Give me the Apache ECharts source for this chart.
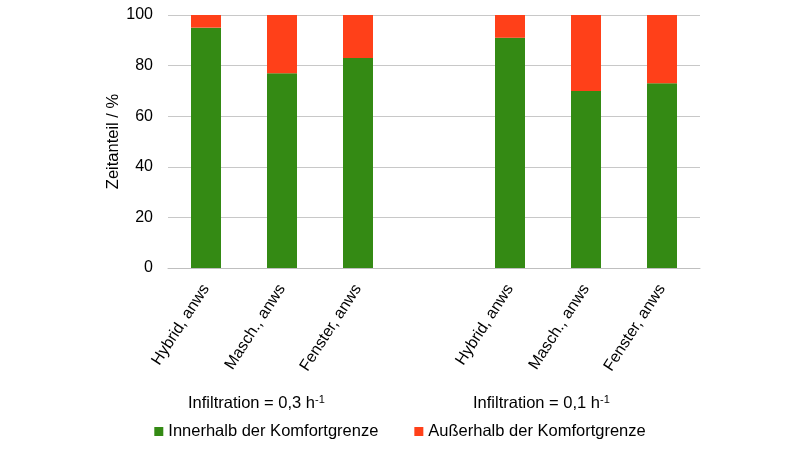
<!DOCTYPE html>
<html><head><meta charset="utf-8">
<script src="https://cdn.jsdelivr.net/npm/echarts@6/dist/echarts.min.js"></script>
<style>html,body{margin:0;padding:0;background:#fff}#c{width:800px;height:450px}</style>
</head><body><div id="c"></div>
<script>
const categories = ['Hybrid, anws', 'Masch., anws', 'Fenster, anws', '', 'Hybrid, anws', 'Masch., anws', 'Fenster, anws'];
const innerhalb = [95, 77, 83, null, 91, 70, 73];
const ausserhalb = [5, 23, 17, null, 9, 30, 27];
const groupLabels = ['Infiltration = 0,3 h', 'Infiltration = 0,1 h'];
const yTicks = [0, 20, 40, 60, 80, 100];

const font = 'Liberation Sans, Arial, sans-serif';
const chart = echarts.init(document.getElementById('c'));
chart.setOption({
  animation: false,
  textStyle: { fontFamily: font },
  grid: { left: 168, right: 100, top: 15, bottom: 182, containLabel: false },
  legend: {
    top: 418, left: 'center', itemWidth: 9, itemHeight: 9, itemGap: 36,
    icon: 'rect',
    textStyle: { fontFamily: font, fontSize: 16.5, color: '#000' },
    data: ['Innerhalb der Komfortgrenze', 'Außerhalb der Komfortgrenze']
  },
  xAxis: {
    type: 'category', data: categories,
    axisLine: { lineStyle: { color: '#bfbfbf' } },
    axisTick: { show: false },
    axisLabel: { rotate: 57, interval: 0, margin: 18, fontSize: 16, color: '#000', fontFamily: font }
  },
  yAxis: {
    type: 'value', min: yTicks[0], max: yTicks[yTicks.length - 1], interval: 20,
    name: 'Zeitanteil / %', nameLocation: 'middle', nameGap: 46, nameMoveOverlap: false,
    nameTextStyle: { fontSize: 16.5, color: '#000', fontFamily: font },
    axisLine: { show: false }, axisTick: { show: false },
    axisLabel: { fontSize: 16, color: '#000', margin: 15, fontFamily: font },
    splitLine: { lineStyle: { color: '#c8c8c8' } }
  },
  series: [
    { name: 'Innerhalb der Komfortgrenze', type: 'bar', stack: 's', data: innerhalb, barWidth: 30, itemStyle: { color: '#348a14' } },
    { name: 'Außerhalb der Komfortgrenze', type: 'bar', stack: 's', data: ausserhalb, barWidth: 30, itemStyle: { color: '#ff4019' } }
  ],
  graphic: groupLabels.map((t, i) => ({
    type: 'text', left: i === 0 ? 188 : 473, top: 394,
    style: {
      text: '{a|' + t + '}{s|-1}',
      rich: {
        a: { fontSize: 16.5, fontFamily: font, fill: '#000' },
        s: { fontSize: 11, fontFamily: font, fill: '#000', verticalAlign: 'top', padding: [0, 0, 8, 0] }
      }
    }
  }))
});
</script></body></html>
